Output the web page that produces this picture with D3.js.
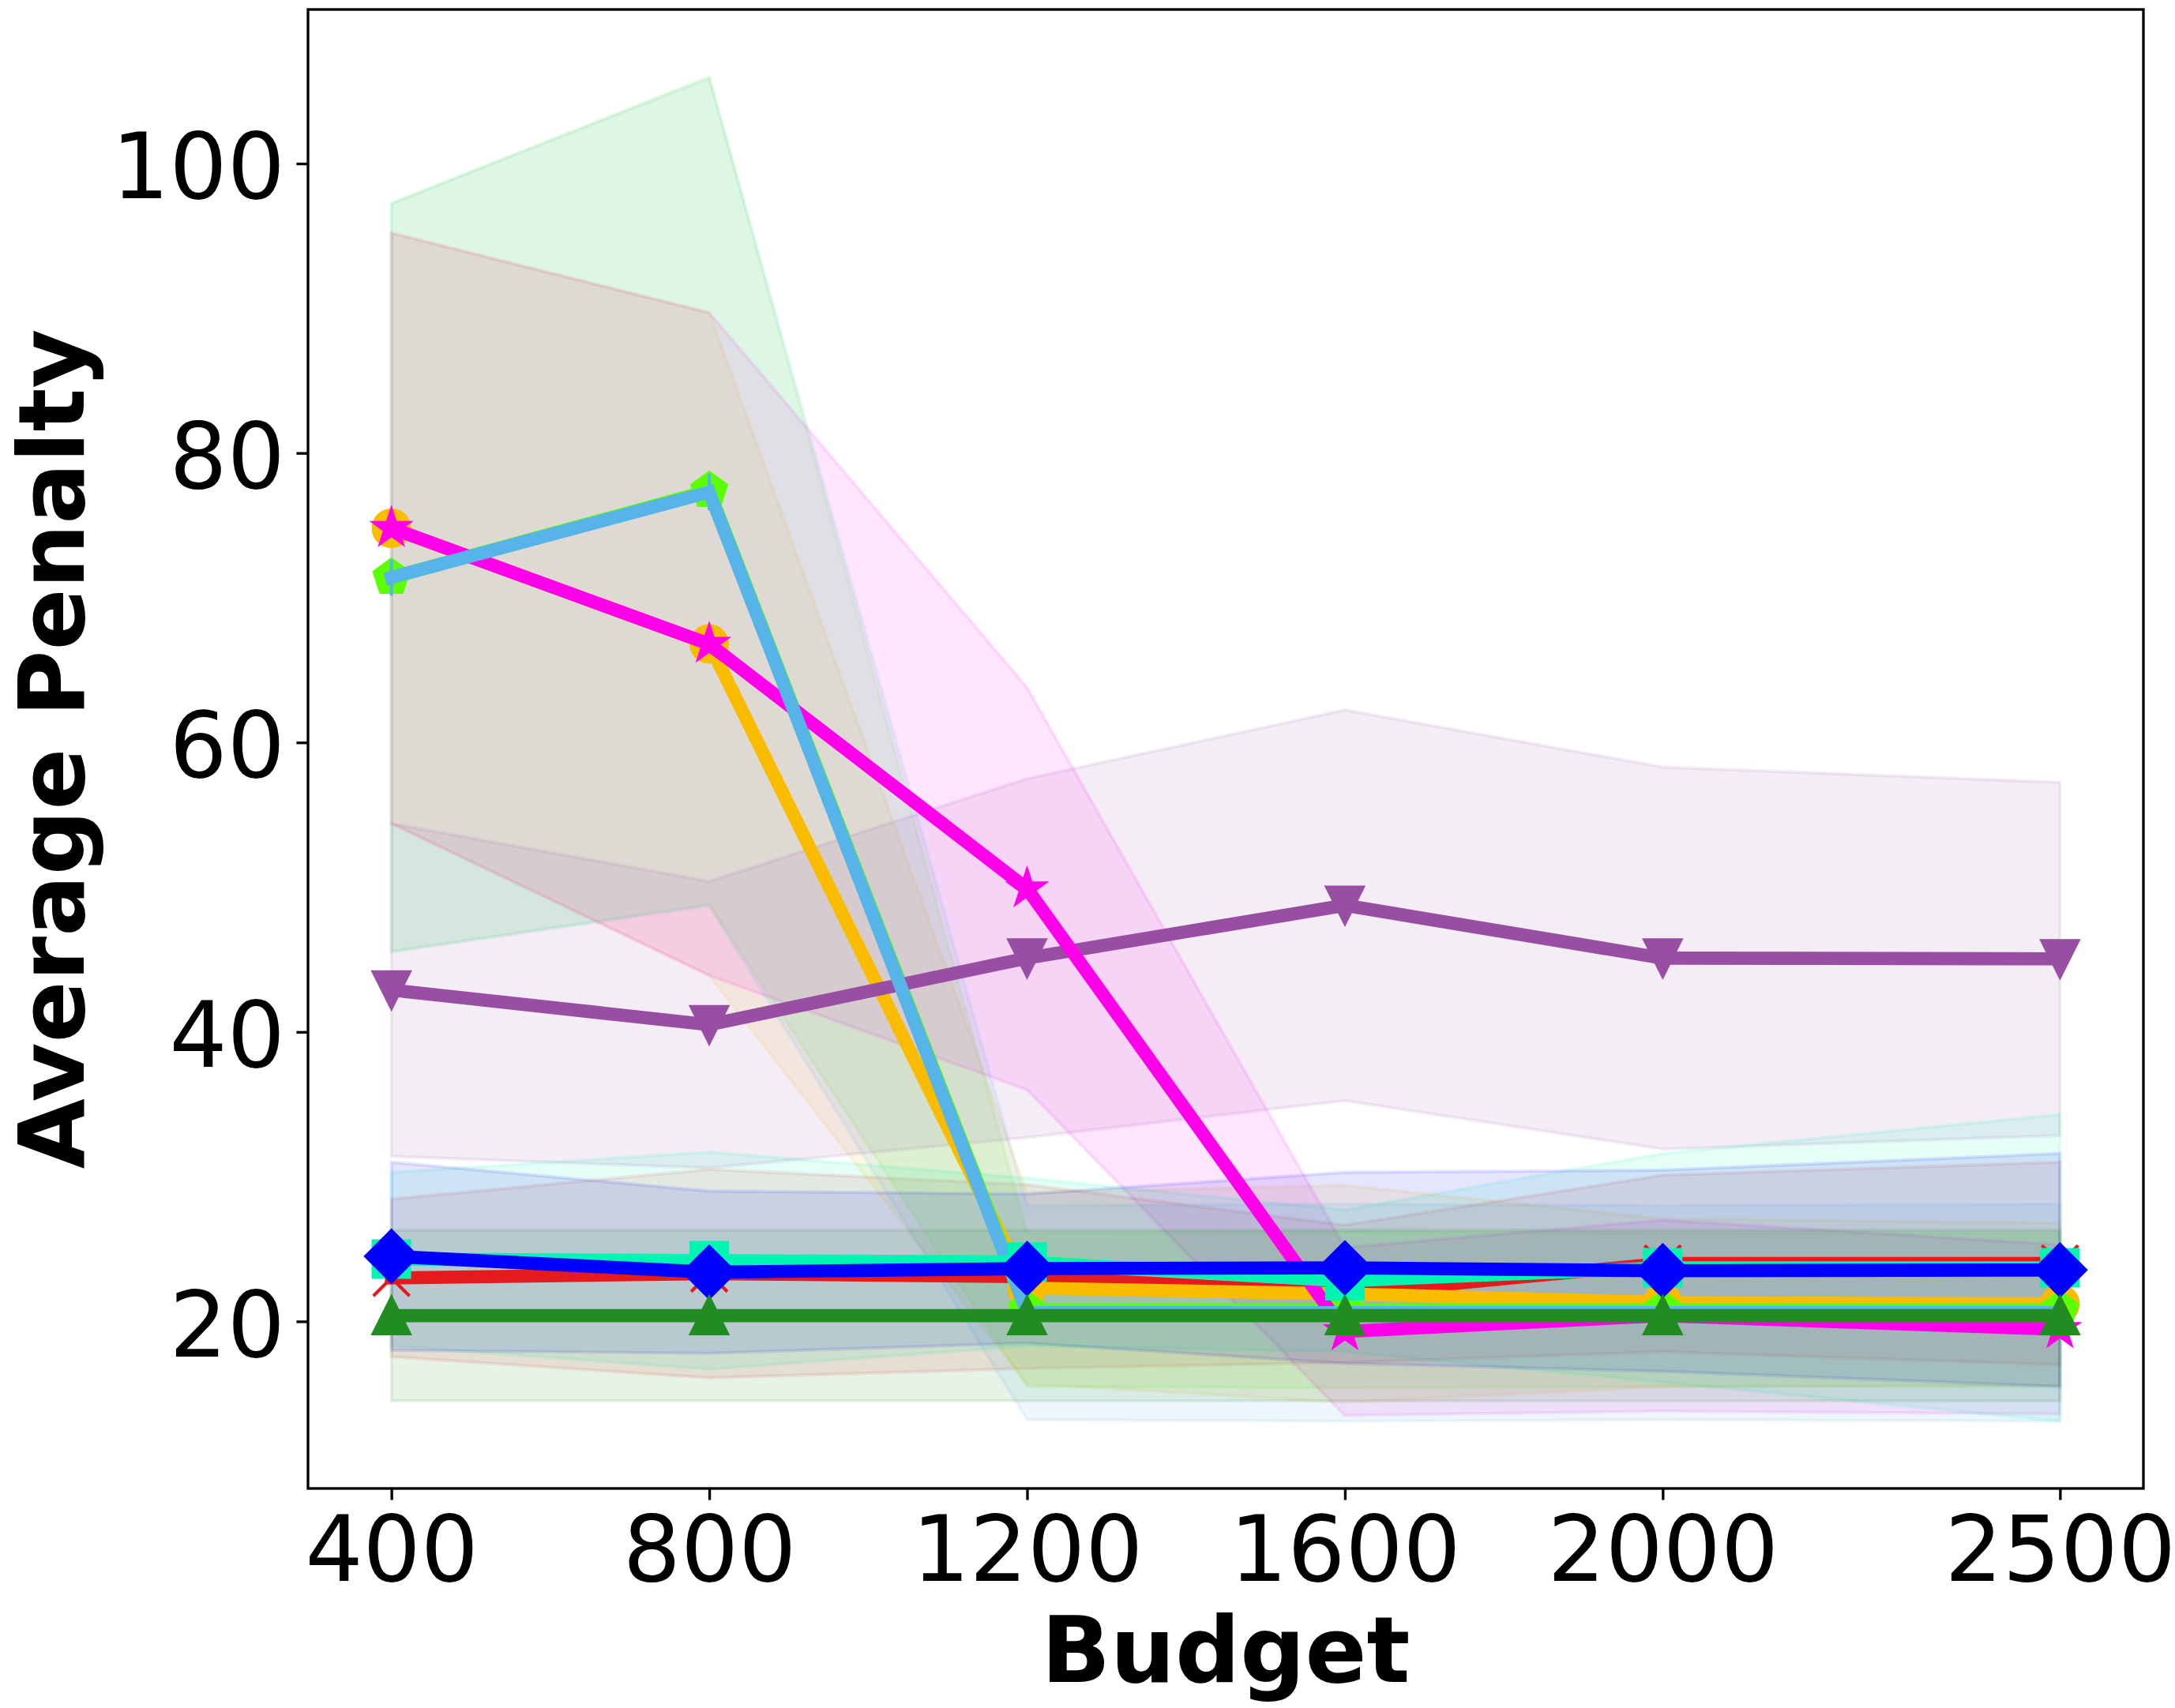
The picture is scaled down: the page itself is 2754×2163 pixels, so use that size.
<!DOCTYPE html>
<html>
<head>
<meta charset="utf-8">
<script src="https://cdn.jsdelivr.net/npm/d3@7"></script>
<style>
  body { margin: 0; background: #fff; }
  svg { display: block; }
  text { font-family: "DejaVu Sans", sans-serif; fill: #000; }
</style>
</head>
<body>
<div id="chart"></div>
<script>
// x categories (budget) and y tick values
var budgets = [400, 800, 1200, 1600, 2000, 2500];
var yTicks = [20, 40, 60, 80, 100];

// mean penalty and std per method
var redMean     = [23.0, 23.3, 23.1, 21.9, 24.0, 24.0];
var redStd      = [5.45, 7.2, 6.35, 4.75, 6.1, 7.0];
var orangeMean  = [74.8, 66.8, 22.3, 21.9, 21.3, 21.2];
var orangeStd   = [20.4, 22.9, 6.6, 7.5, 5.8, 5.6];
var limeMean    = [71.4, 77.4, 20.8, 20.8, 20.8, 20.8];
var limeStd     = [25.85, 28.6, 5.3, 5.4, 5.3, 5.3];
var purpleMean  = [42.9, 40.5, 45.1, 48.75, 45.1, 45.05];
var purpleStd   = [11.5, 9.9, 12.4, 13.5, 13.2, 12.2];
var magentaMean = [74.8, 66.8, 49.9, 19.3, 20.4, 19.45];
var magentaStd  = [20.4, 22.9, 13.9, 5.8, 6.6, 5.85];
var skyMean     = [71.4, 77.3, 20.6, 20.6, 20.6, 20.6];
var skyStd      = [25.85, 28.6, 7.4, 7.5, 7.4, 7.5];
var aquaMean    = [24.3, 24.2, 24.1, 22.8, 23.7, 23.7];
var aquaStd     = [6.0, 7.5, 5.8, 4.9, 7.9, 10.6];
var blueMean    = [24.5, 23.4, 23.65, 23.7, 23.5, 23.55];
var blueStd     = [6.5, 5.6, 5.15, 6.6, 6.95, 8.05];
var greenMean   = [20.4, 20.4, 20.4, 20.4, 20.4, 20.4];
var greenStd    = [5.9, 5.9, 5.9, 5.9, 5.9, 5.9];

// plotting order matters (later ones on top)
var series = [
  {mean: redMean,     std: redStd,     color: "#e41a1c", marker: "x"},
  {mean: orangeMean,  std: orangeStd,  color: "#f9bc00", marker: "o"},
  {mean: limeMean,    std: limeStd,    color: "#5cff00", marker: "p"},
  {mean: purpleMean,  std: purpleStd,  color: "#984ea3", marker: "v"},
  {mean: magentaMean, std: magentaStd, color: "#ff00ea", marker: "*"},
  {mean: skyMean,     std: skyStd,     color: "#56b4e9", marker: "|"},
  {mean: aquaMean,    std: aquaStd,    color: "#00f5b2", marker: "s"},
  {mean: blueMean,    std: blueStd,    color: "#0000ff", marker: "D"},
  {mean: greenMean,   std: greenStd,   color: "#228b22", marker: "^"}
];

var W = 2754, H = 2163;
var margin = {top: 12, right: 40, bottom: 278, left: 390},
    width = W - margin.left - margin.right,
    height = H - margin.top - margin.bottom;

var pt = 300 / 72;          // figure was 300 dpi
var lw = 4 * pt, ms = 11 * pt, mew = 1 * pt, fontPx = 115;

var svg = d3.select("#chart").append("svg")
    .attr("width", W)
    .attr("height", H);

var g = svg.append("g")
    .attr("transform", "translate(" + margin.left + "," + margin.top + ")");

// scales with matplotlib style 5% margins
var xMin = d3.min(budgets), xMax = d3.max(budgets);
var xPad = (xMax - xMin) * 0.05;
var x = d3.scaleLinear().domain([xMin - xPad, xMax + xPad]).range([0, width]);

var lo = d3.min(series, function(s) { return d3.min(s.mean, function(m, i) { return m - s.std[i]; }); });
var hi = d3.max(series, function(s) { return d3.max(s.mean, function(m, i) { return m + s.std[i]; }); });
var yPad = (hi - lo) * 0.05;
var y = d3.scaleLinear().domain([lo - yPad, hi + yPad]).range([height, 0]);

// marker shapes like matplotlib's
function mplMarker(kind) {
  return {draw: function(ctx, s) {
    var r = s / 2, k, a;
    if (kind == "o") {
      ctx.moveTo(r, 0); ctx.arc(0, 0, r, 0, 2 * Math.PI);
    } else if (kind == "s") {
      ctx.rect(-r, -r, s, s);
    } else if (kind == "D") {
      var h = s * Math.SQRT2 / 2;
      ctx.moveTo(0, -h); ctx.lineTo(h, 0); ctx.lineTo(0, h); ctx.lineTo(-h, 0); ctx.closePath();
    } else if (kind == "^") {
      ctx.moveTo(0, -r); ctx.lineTo(-r, r); ctx.lineTo(r, r); ctx.closePath();
    } else if (kind == "v") {
      ctx.moveTo(0, r); ctx.lineTo(-r, -r); ctx.lineTo(r, -r); ctx.closePath();
    } else if (kind == "p") {
      for (k = 0; k < 5; k++) {
        a = -Math.PI / 2 + k * 2 * Math.PI / 5;
        if (k == 0) ctx.moveTo(r * Math.cos(a), r * Math.sin(a));
        else ctx.lineTo(r * Math.cos(a), r * Math.sin(a));
      }
      ctx.closePath();
    } else if (kind == "*") {
      for (k = 0; k < 10; k++) {
        a = -Math.PI / 2 + k * Math.PI / 5;
        var rr = (k % 2 == 0) ? r : r * 0.381966;
        if (k == 0) ctx.moveTo(rr * Math.cos(a), rr * Math.sin(a));
        else ctx.lineTo(rr * Math.cos(a), rr * Math.sin(a));
      }
      ctx.closePath();
    } else if (kind == "x") {
      ctx.moveTo(-r, -r); ctx.lineTo(r, r);
      ctx.moveTo(-r, r); ctx.lineTo(r, -r);
    } else if (kind == "|") {
      ctx.moveTo(0, -r); ctx.lineTo(0, r);
    }
  }};
}

function rows(s) {
  return budgets.map(function(b, i) { return {b: b, m: s.mean[i], s: s.std[i]}; });
}

var area = d3.area()
    .x(function(d) { return x(d.b); })
    .y0(function(d) { return y(d.m - d.s); })
    .y1(function(d) { return y(d.m + d.s); });

var line = d3.line()
    .x(function(d) { return x(d.b); })
    .y(function(d) { return y(d.m); });

// std bands first (they sit under every line)
g.selectAll(".band")
    .data(series)
  .enter().append("path")
    .attr("class", "band")
    .attr("d", function(s) { return area(rows(s)); })
    .attr("fill", function(s) { return s.color; })
    .attr("fill-opacity", 0.1)
    .attr("stroke", function(s) { return s.color; })
    .attr("stroke-opacity", 0.1)
    .attr("stroke-width", pt);

// lines + markers, one series at a time
series.forEach(function(s) {
  var sg = g.append("g");
  sg.append("path")
      .attr("d", line(rows(s)))
      .attr("fill", "none")
      .attr("stroke", s.color)
      .attr("stroke-width", lw)
      .attr("stroke-linejoin", "miter")
      .attr("stroke-linecap", "square");

  var open = (s.marker == "x" || s.marker == "|");
  sg.selectAll(".mk")
      .data(rows(s))
    .enter().append("path")
      .attr("class", "mk")
      .attr("transform", function(d) { return "translate(" + x(d.b) + "," + y(d.m) + ")"; })
      .attr("d", d3.symbol().type(mplMarker(s.marker)).size(ms))
      .attr("fill", open ? "none" : s.color)
      .attr("stroke", s.color)
      .attr("stroke-width", mew);
});

// axes
var xAxis = g.append("g")
    .attr("transform", "translate(0," + height + ")")
    .call(d3.axisBottom(x).tickValues(budgets).tickFormat(d3.format("d"))
      .tickSize(3.5 * pt).tickPadding(3.5 * pt));

var yAxis = g.append("g")
    .call(d3.axisLeft(y).tickValues(yTicks).tickFormat(d3.format("d"))
      .tickSize(3.5 * pt).tickPadding(3.5 * pt));

[xAxis, yAxis].forEach(function(ax) {
  ax.select(".domain").remove();
  ax.selectAll(".tick line").attr("stroke", "#000").attr("stroke-width", 0.8 * pt);
  ax.selectAll(".tick text")
      .attr("font-family", "DejaVu Sans")
      .attr("font-size", fontPx)
      .attr("fill", "#000");
});
xAxis.selectAll(".tick text").attr("dy", "0.76em");
yAxis.selectAll(".tick text").attr("dy", "0.38em");

// frame
g.append("rect")
    .attr("width", width)
    .attr("height", height)
    .attr("fill", "none")
    .attr("stroke", "#000")
    .attr("stroke-width", 0.8 * pt);

// axis titles
svg.append("text")
    .attr("x", margin.left + width / 2)
    .attr("y", 2130)
    .attr("text-anchor", "middle")
    .attr("font-size", fontPx)
    .attr("font-weight", "bold")
    .text("Budget");

svg.append("text")
    .attr("transform", "translate(106," + (margin.top + height / 2) + ") rotate(-90)")
    .attr("text-anchor", "middle")
    .attr("font-size", fontPx)
    .attr("font-weight", "bold")
    .text("Average Penalty");
</script>
</body>
</html>
